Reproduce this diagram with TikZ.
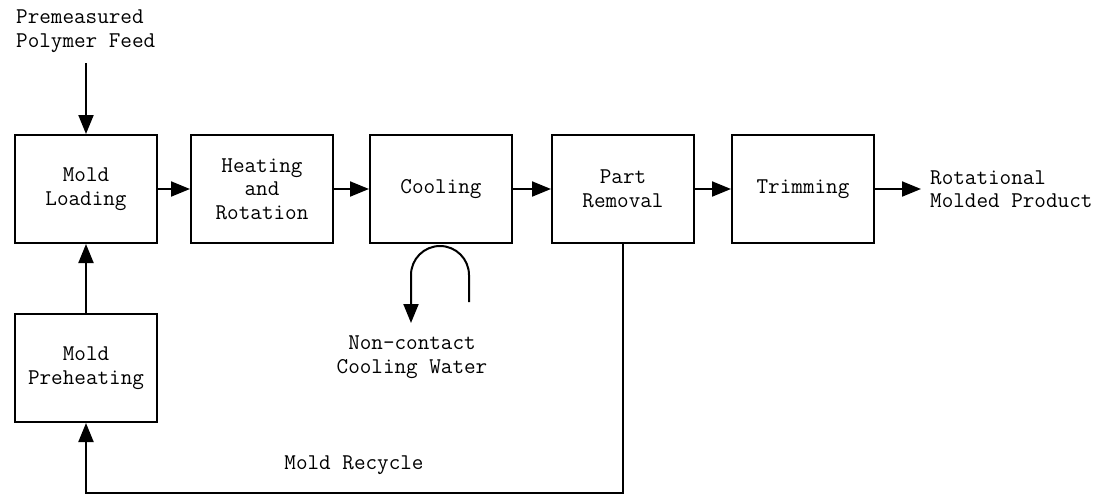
\documentclass[tikz,border=0pt]{standalone}
\usepackage{fontspec}
\usetikzlibrary{arrows.meta}
\tikzset{
  stage/.style={draw, line width=2pt, minimum width=142pt, minimum height=108pt,
    align=center, inner sep=0pt},
  plain text/.style={inner sep=0pt},
  flow/.style={line width=2pt, -{Triangle[length=19pt,width=15pt]}},
}
\begin{document}
\begin{tikzpicture}[x=1pt, y=-1pt,
  every node/.style={font=\ttfamily\fontsize{22.5}{23.5}\selectfont}]
\useasboundingbox (0,0) rectangle (1106,496);
% process stages
\node[stage] (load) at (86,189) {Mold\\Loading};
\node[stage] (heat) at (262,189) {Heating\\and\\Rotation};
\node[stage] (cool) at (441,189) {Cooling};
\node[stage] (removal) at (623,189) {Part\\Removal};
\node[stage] (trim) at (803,189) {Trimming};
\node[stage] (preheat) at (86,368) {Mold\\Preheating};
% feed and product
\node[plain text, anchor=west, align=left] (feed) at (16,31) {Premeasured\\Polymer Feed};
\coordinate (feedend) at (86,63);
\draw[flow] (feedend) -- (load.north);
\node[plain text, anchor=west, align=left] (product) at (930,189) {Rotational\\Molded Product};
\draw[flow, shorten >=9pt] (trim.east) -- (product.west);
% main line
\draw[flow] (load) -- (heat);
\draw[flow] (heat) -- (cool);
\draw[flow] (cool) -- (removal);
\draw[flow] (removal) -- (trim);
\draw[flow] (preheat) -- (load);
% cooling water
\coordinate (waterin) at (469,302);
\coordinate (waterout) at (411,323);
\draw[flow] (waterin) -- (469,275) arc[start angle=0, end angle=-180, radius=29] -- (waterout);
\node[plain text, align=center] (water) at (412,357) {Non-contact\\Cooling Water};
% mold recycle
\coordinate (recycle) at (623,493);
\draw[flow] (removal.south) -- (recycle) -| (preheat.south);
\node[plain text] (recyclelabel) at (354,465) {Mold Recycle};
\end{tikzpicture}
\end{document}
